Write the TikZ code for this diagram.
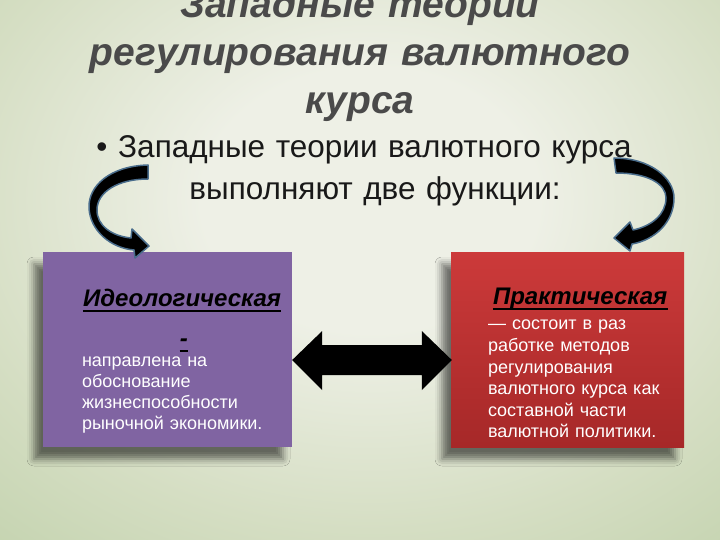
\documentclass[tikz,border=0pt]{standalone}
\usepackage{fontspec}
\setmainfont{Liberation Sans}
\usetikzlibrary{calc,positioning,shadows.blur}
\definecolor{fonsvet}{HTML}{EEF0E6}
\definecolor{fonsred}{HTML}{D5DEC3}
\definecolor{fontem}{HTML}{BCCEA6}
\definecolor{fonkraj}{HTML}{A9BF93}
\definecolor{zagol}{HTML}{4A4A4A}
\definecolor{fiolet}{HTML}{8064A2}
\definecolor{krasn}{HTML}{CC3A3A}
\definecolor{krasntem}{HTML}{A62828}
\definecolor{kontur}{HTML}{4A6D8C}
\pgfdeclareradialshading{fon}{\pgfpoint{0bp}{0bp}}{color(0bp)=(fonsvet); color(6bp)=(fonsvet); color(15bp)=(fonsred); color(24bp)=(fontem); color(34bp)=(fonkraj); color(50bp)=(fonkraj)}
\begin{document}
\begin{tikzpicture}[x=1pt, y=-1pt, line join=round,
	zagolovok/.style={text=zagol, font=\bfseries\itshape\fontsize{39}{48}\selectfont, text width=720, align=center, inner sep=0},
	punkt/.style={text=black!90, font=\fontsize{31.5}{42}\selectfont, inner sep=0},
	blok/.style={minimum width=#1, minimum height=195, inner sep=0, blur shadow={shadow xshift=-9pt, shadow yshift=-12pt, shadow blur radius=7pt, shadow opacity=55}},
	golova/.style={text=black, font=\bfseries\itshape\fontsize{24}{28}\selectfont, inner sep=0},
	podcherk/.style={line width=1.6pt},
	tekst/.style={text=white, font=\fontsize{18}{21}\selectfont, text width=220, align=left, inner sep=0},
	duga/.style={fill=black, draw=kontur, line width=1.5pt}]
	%% Фон слайда
	\useasboundingbox (0,0) rectangle (720,540);
	\clip (0,0) rectangle (720,540);
	\shade[shading=fon] (-330,-350) rectangle (1070,750);
	%% Заголовок и тезис
	\node[zagolovok, anchor=base] (zag) at (360,18) {Западные теории\\регулирования валютного\\курса};
	\node[punkt, anchor=base, text width=620, align=center] (tezis) at (375,158) {Западные теории валютного курса\\выполняют две функции:};
	\node[punkt, anchor=base] (marker) at (102,158) {•};
	%% Блоки функций
	\node[blok=249, fill=fiolet] (ideo) at (167.5,349.5) {};
	\node[blok=233, top color=krasn, bottom color=krasntem] (prakt) at (567.5,349.5) {};
	\node[golova, anchor=base west] (ideoZag) at ($(ideo.north west)+(40,55)$) {Идеологическая};
	\node[golova, anchor=base] (ideoTire) at ($(ideo.north west)+(141,95)$) {-};
	\node[tekst, anchor=base west] (ideoTekst) at ($(ideo.north west)+(39,115)$) {направлена на\\обоснование\\жизнеспособности\\рыночной экономики.};
	\node[golova, anchor=base west] (praktZag) at ($(prakt.north west)+(42,53)$) {Практическая};
	\node[tekst, anchor=base west, font=\fontsize{18}{21.6}\selectfont] (praktTekst) at ($(prakt.north west)+(37,78)$) {— состоит в раз\\работке методов\\регулирования\\валютного курса как\\составной части\\валютной политики.};
	%% Подчёркивания
	\draw[podcherk] ($(ideoZag.base west)+(0,4)$) -- ($(ideoZag.base east)+(0,4)$);
	\draw[podcherk] ($(ideoTire.base west)+(0,4)$) -- ($(ideoTire.base east)+(0,4)$);
	\draw[podcherk] ($(praktZag.base west)+(0,4)$) -- ($(praktZag.base east)+(0,4)$);
	%% Двойная стрелка между блоками
	\coordinate (sL) at ($(ideo.east)+(0,10.5)$);
	\coordinate (sR) at ($(prakt.west)+(1,10.5)$);
	\fill[black] (sL) -- ++(30,-29) -- ++(0,14) -- ($(sR)+(-30,-15)$) -- ++(0,-14) -- (sR)
		-- ++(-30,30) -- ++(0,-15) -- ($(sL)+(30,15)$) -- ++(0,15) -- cycle;
	%% Изогнутые стрелки
	\draw[duga] (148,165) .. controls (110,166) and (88,186) .. (89,208)
		.. controls (90,230) and (110,248) .. (134,250) -- (135,258) -- (149,246) -- (132,229) -- (131,238)
		.. controls (112,236) and (97,226) .. (97,210) .. controls (97,192) and (118,179) .. (148,179) -- cycle;
	\draw[duga] (614,158) .. controls (650,158) and (674,178) .. (674,198)
		.. controls (674,222) and (655,240) .. (632,244) -- (630,251) -- (614,238) -- (630,222) -- (633,230)
		.. controls (652,226) and (666,214) .. (666,198) .. controls (666,184) and (648,173) .. (616,173) -- cycle;
\end{tikzpicture}
\end{document}
